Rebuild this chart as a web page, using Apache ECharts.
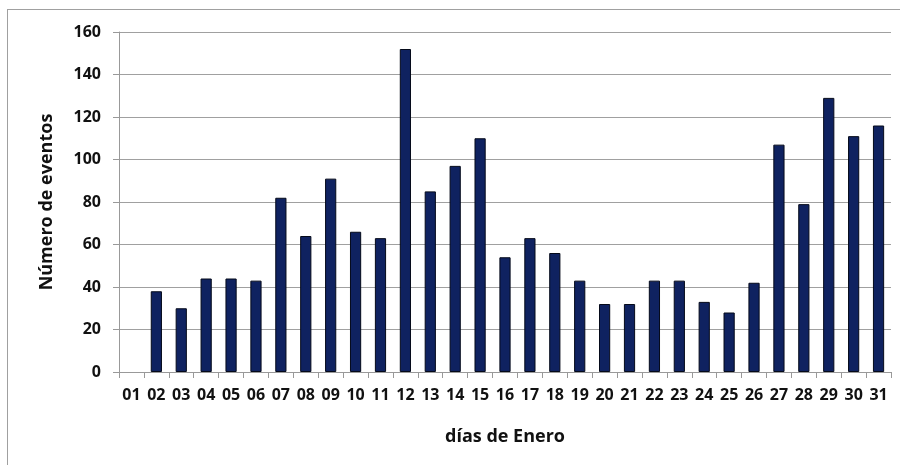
<!DOCTYPE html>
<html>
<head>
<meta charset="utf-8">
<script src="https://cdn.jsdelivr.net/npm/echarts@6/dist/echarts.min.js"></script>
<style>
  html, body { margin: 0; padding: 0; background: #fff; }
  #frame { position: absolute; left: 7px; top: 9px; width: 900px; height: 470px; border: 1px solid #a0a0a0; box-sizing: border-box; }
  #chart { position: absolute; left: 0; top: 0; width: 900px; height: 465px; }
</style>
</head>
<body>
<div id="frame"></div>
<div id="chart"></div>
<script>
// días de Enero
const days = ['01','02','03','04','05','06','07','08','09','10','11','12','13','14','15','16',
  '17','18','19','20','21','22','23','24','25','26','27','28','29','30','31']
// número de eventos por día
const eventos = [0, 38, 30, 44, 44, 43, 82, 64, 91, 66, 63, 152, 85, 97, 110, 54,
  63, 56, 43, 32, 32, 43, 43, 33, 28, 42, 107, 79, 129, 111, 116]
const yTicks = { min: 0, max: 160, interval: 20 }

const chart = echarts.init(document.getElementById('chart'))
const font = 'Open Sans'
chart.setOption({
  animation: false,
  grid: { left: 119, right: 9, top: 32, bottom: 93 },
  xAxis: {
    type: 'category',
    data: days,
    name: 'días de Enero',
    nameLocation: 'middle',
    nameGap: 56,
    nameTextStyle: { fontFamily: font, fontWeight: 'bold', fontSize: 18, color: '#111' },
    axisLine: { lineStyle: { color: '#999' } },
    axisTick: { show: true, length: 6, lineStyle: { color: '#999' } },
    axisLabel: { fontFamily: font, fontWeight: 'bold', fontSize: 16, color: '#111', interval: 0, margin: 15 }
  },
  yAxis: {
    type: 'value',
    min: yTicks.min,
    max: yTicks.max,
    interval: yTicks.interval,
    name: 'Número de eventos',
    nameLocation: 'middle',
    nameGap: 63,
    nameTextStyle: { fontFamily: font, fontWeight: 'bold', fontSize: 18, color: '#111' },
    axisLine: { show: true, lineStyle: { color: '#999' } },
    axisTick: { show: true, length: 6, lineStyle: { color: '#999' } },
    axisLabel: { fontFamily: font, fontWeight: 'bold', fontSize: 16, color: '#111', margin: 18 },
    splitLine: { lineStyle: { color: '#a0a0a0' } }
  },
  series: [{
    type: 'bar',
    // no outline on empty days
    data: eventos.map(v => v === 0 ? { value: v, itemStyle: { borderWidth: 0 } } : v),
    barWidth: '45%',
    itemStyle: { color: '#0f2260', borderColor: '#050a1a', borderWidth: 1 }
  }]
})
</script>
</body>
</html>
